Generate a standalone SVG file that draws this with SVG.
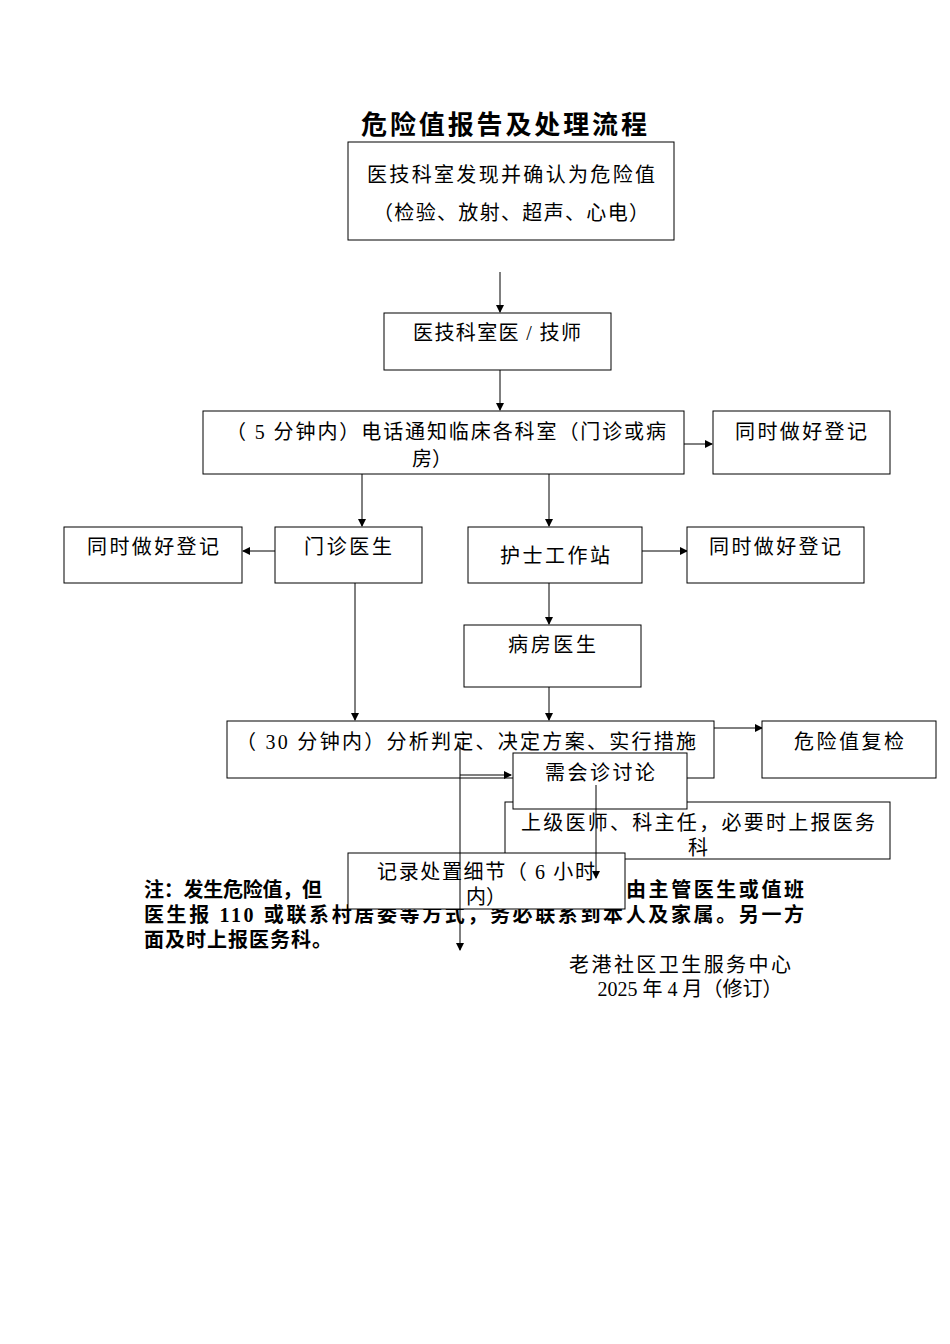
<svg xmlns="http://www.w3.org/2000/svg" width="950" height="1344" viewBox="0 0 950 1344">
<defs><marker id="a" markerWidth="8" markerHeight="8" refX="7" refY="4" orient="auto" markerUnits="userSpaceOnUse"><path d="M0,0L8,4L0,8z" fill="#000"/></marker></defs>
<style>rect{fill:#fff;stroke:#000;stroke-width:1}text{font-family:"Liberation Serif","Noto Sans CJK SC",serif;font-size:20px;fill:#000;text-anchor:middle}.c line,.c path{stroke:#000;stroke-width:1;fill:none;marker-end:url(#a)}.n{font-weight:bold;text-anchor:start}</style>
<rect width="950" height="1344" style="stroke:none"/>
<text x="504" y="134" style="font-size:26px;font-weight:bold" textLength="286">危险值报告及处理流程</text>
<g class="c">
<line x1="500" y1="272" x2="500" y2="312"/>
<line x1="500" y1="370" x2="500" y2="410"/>
<line x1="684" y1="444" x2="712" y2="444"/>
<line x1="362" y1="474" x2="362" y2="526"/>
<line x1="549" y1="474" x2="549" y2="526"/>
<line x1="275" y1="551" x2="243" y2="551"/>
<line x1="642" y1="551" x2="687" y2="551"/>
<line x1="549" y1="583" x2="549" y2="624"/>
<line x1="355" y1="583" x2="355" y2="720"/>
<line x1="549" y1="687" x2="549" y2="720"/>
<line x1="714" y1="728" x2="762" y2="728"/>
</g>
<g id="n1"><rect x="348" y="142" width="326" height="98"/><text x="511" y="182" textLength="288">医技科室发现并确认为危险值</text><text x="511" y="220" textLength="276">（检验、放射、超声、心电）</text></g>
<g id="n2"><rect x="384" y="313" width="227" height="57"/><text x="497" y="340" textLength="168">医技科室医 / 技师</text></g>
<g id="n3"><rect x="203" y="411" width="481" height="63"/><text x="446" y="439" textLength="440">（ 5 分钟内）电话通知临床各科室（门诊或病</text><text x="432" y="466">房）</text></g>
<g id="n4"><rect x="713" y="411" width="177" height="63"/><text x="801" y="439" textLength="132">同时做好登记</text></g>
<g id="n5"><rect x="64" y="527" width="178" height="56"/><text x="153" y="554" textLength="132">同时做好登记</text></g>
<g id="n6"><rect x="275" y="527" width="147" height="56"/><text x="348" y="554" textLength="88">门诊医生</text></g>
<g id="n7"><rect x="468" y="527" width="174" height="56"/><text x="555" y="563" textLength="110">护士工作站</text></g>
<g id="n8"><rect x="687" y="527" width="177" height="56"/><text x="775" y="554" textLength="132">同时做好登记</text></g>
<g id="n9"><rect x="464" y="625" width="177" height="62"/><text x="552" y="652" textLength="88">病房医生</text></g>
<g id="n10"><rect x="227" y="721" width="487" height="57"/><text x="466" y="749" textLength="460">（ 30 分钟内）分析判定、决定方案、实行措施</text></g>
<g id="n11"><rect x="762" y="721" width="174" height="57"/><text x="849" y="749" textLength="110">危险值复检</text></g>
<g id="n12"><rect x="505" y="802" width="385" height="57"/><text x="698" y="830" textLength="354">上级医师、科主任，必要时上报医务</text><text x="698" y="855">科</text></g>
<text class="n" x="144" y="897" textLength="178">注：发生危险值，但</text>
<text class="n" x="626" y="897" textLength="178">由主管医生或值班</text>
<text class="n" x="144" y="922" textLength="660">医生报 110 或联系村居委等方式，务必联系到本人及家属。另一方</text>
<text class="n" x="144" y="947" textLength="188">面及时上报医务科。</text>
<g id="n13"><rect x="513" y="753" width="174" height="56"/><text x="600" y="780" textLength="110">需会诊讨论</text></g>
<g id="n14"><rect x="348" y="853" width="277" height="56"/><text x="486" y="879" textLength="218">记录处置细节（ 6 小时</text><text x="486" y="904">内）</text></g>
<g class="c">
<line x1="460" y1="742" x2="460" y2="950"/>
<line x1="460" y1="775" x2="511" y2="775"/>
<line x1="596" y1="785" x2="596" y2="878"/>
</g>
<text x="680" y="972" textLength="222">老港社区卫生服务中心</text>
<text x="690" y="996">2025 年 4 月（修订）</text>
</svg>
